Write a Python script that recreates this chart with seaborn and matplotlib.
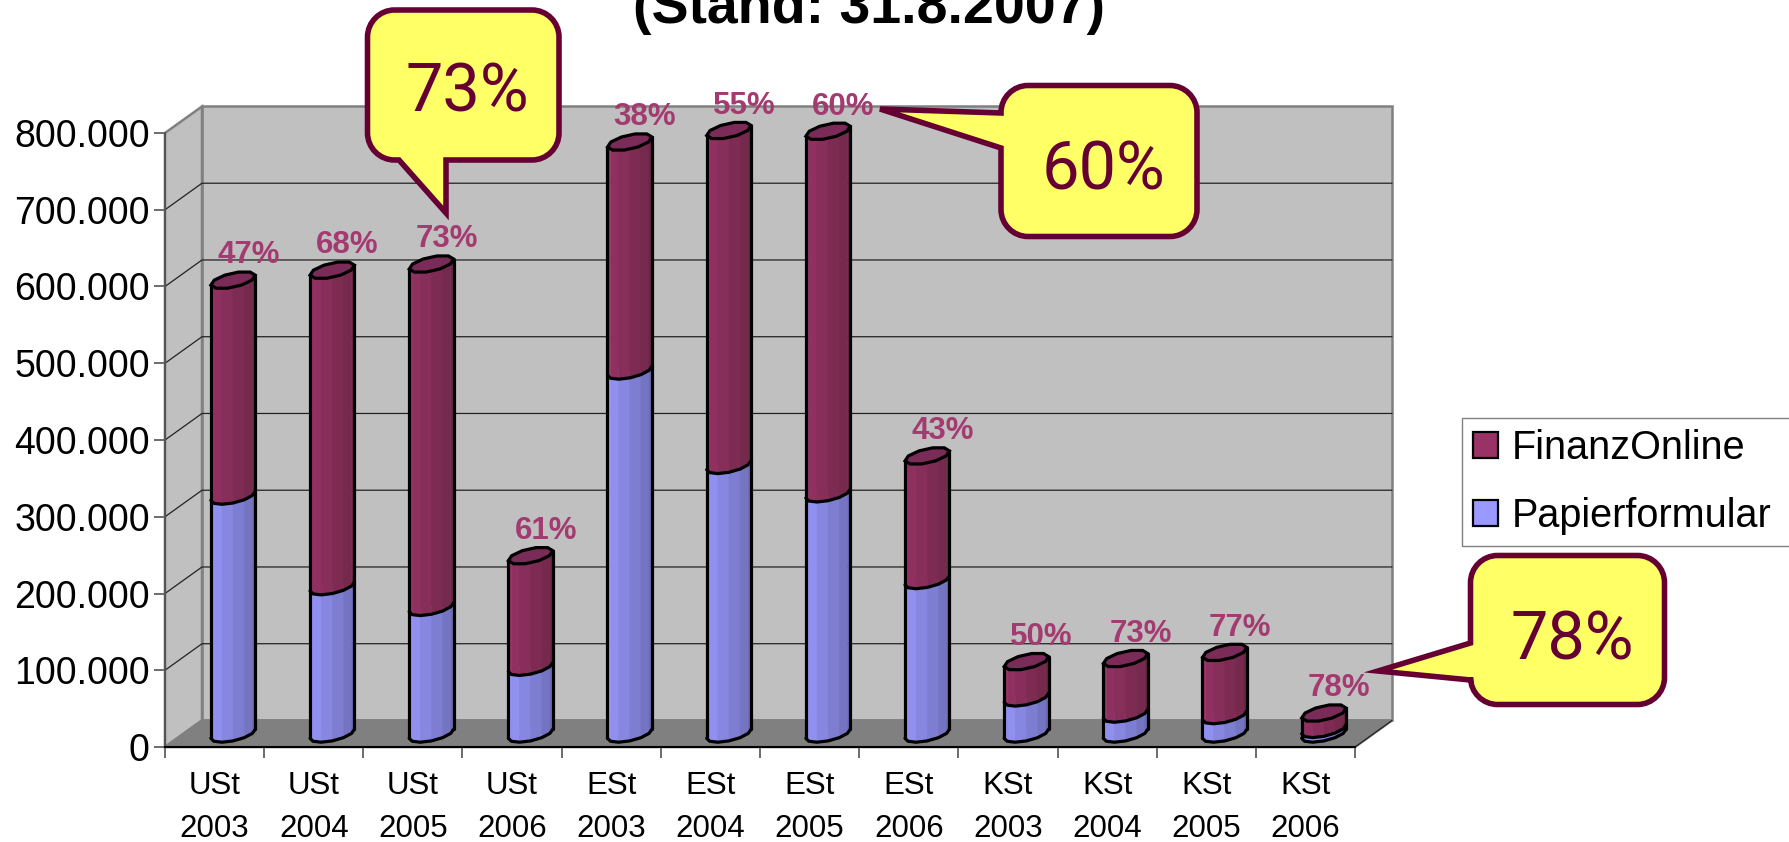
import numpy as np
import pandas as pd
import seaborn as sns
import matplotlib.pyplot as plt
from matplotlib.patches import Polygon, PathPatch, Patch
from matplotlib.path import Path
from matplotlib.transforms import Affine2D

labels = ['USt\n2003', 'USt\n2004', 'USt\n2005', 'USt\n2006',
          'ESt\n2003', 'ESt\n2004', 'ESt\n2005', 'ESt\n2006',
          'KSt\n2003', 'KSt\n2004', 'KSt\n2005', 'KSt\n2006']
papier = [310000, 192000, 165000, 87000, 473000, 350000, 313000, 200000, 47000, 26000, 24000, 6000]
online = [281000, 412000, 447000, 145000, 298000, 436000, 472000, 162000, 47000, 72000, 82000, 21000]
prozent = ['47%', '68%', '73%', '61%', '38%', '55%', '60%', '43%', '50%', '73%', '77%', '78%']
y_ticks = [0, 100000, 200000, 300000, 400000, 500000, 600000, 700000, 800000]
y_labels = ['0', '100.000', '200.000', '300.000', '400.000', '500.000', '600.000', '700.000', '800.000']

W, H = 1789, 842
DEPTH_X = 0.373
DEPTH_Y = 34570
RX, RD = 0.19, 0.32
COL_ONLINE = '#993366'
COL_PAPIER = '#9999ff'
DARK = '#660033'
YELLOW = '#ffff66'

sns.set_theme(style='white')
plt.rcParams['font.family'] = ['Liberation Sans', 'DejaVu Sans']
plt.rcParams['text.color'] = 'black'

df = pd.DataFrame({'label': labels, 'papier': papier, 'online': online})
df['gesamt'] = df['papier'] + df['online']

fig = plt.figure(figsize=(W / 100, H / 100), dpi=100, facecolor='white')
ax = fig.add_axes([165 / W, (H - 747) / H, 1190 / W, 614 / H])

# flat bars, the round bodies get drawn on top of them
sns.barplot(df, x='label', y='gesamt', color=COL_ONLINE, saturation=1, width=0.3, ax=ax, zorder=3)
sns.barplot(df, x='label', y='papier', color=COL_PAPIER, saturation=1, width=0.3, ax=ax, zorder=3)
ax.set_xlim(-0.5, 11.5)
ax.set_ylim(0, 800000)
ax.set_xlabel('')
ax.set_ylabel('')

mid = Affine2D().translate(DEPTH_X / 2, DEPTH_Y / 2) + ax.transData
for bar in ax.patches:
    bar.set_transform(mid)
    bar.set_clip_on(False)


def proj(x, y, d):
    return x + d * DEPTH_X, y + d * DEPTH_Y


# walls and floor
x0, x1 = -0.5, 11.5
floor = [proj(x0, 0, 0), proj(x1, 0, 0), proj(x1, 0, 1), proj(x0, 0, 1)]
back = [proj(x0, 0, 1), proj(x1, 0, 1), proj(x1, 800000, 1), proj(x0, 800000, 1)]
side = [proj(x0, 0, 0), proj(x0, 0, 1), proj(x0, 800000, 1), proj(x0, 800000, 0)]
for pts, col in [(back, '#c0c0c0'), (side, '#c0c0c0'), (floor, '#808080')]:
    ax.add_patch(Polygon(pts, closed=True, fc=col, ec='#808080', lw=1.8, clip_on=False, zorder=1))
for t in y_ticks[1:-1]:
    a, b, c = proj(x0, t, 0), proj(x0, t, 1), proj(x1, t, 1)
    ax.plot([a[0], b[0], c[0]], [a[1], b[1], c[1]], color='#222222', lw=0.9, clip_on=False, zorder=2)
a, b = proj(x1, 0, 0), proj(x1, 0, 1)
ax.plot([a[0], b[0]], [a[1], b[1]], color='#222222', lw=0.9, clip_on=False, zorder=2)


def blend(c1, c2, n):
    c1, c2 = np.array(plt.matplotlib.colors.to_rgb(c1)), np.array(plt.matplotlib.colors.to_rgb(c2))
    return [c1 + (c2 - c1) * i / (n - 1) for i in range(n)]


def ring(x, y, ang):
    # x, y of a circle lying in the depth plane, around the middle of the bar
    xs = x + RX * np.cos(ang) + (0.5 + RD * np.sin(ang)) * DEPTH_X
    ys = y + (0.5 + RD * np.sin(ang)) * DEPTH_Y
    return xs, ys


def body(x, v0, v1, c_light, c_dark, z):
    start = np.arctan2(RD * DEPTH_X, RX) + np.pi
    ang = np.linspace(start, start + np.pi, 7)
    xs, y0 = ring(x, v0, ang)
    _, y1 = ring(x, v1, ang)
    for i, col in enumerate(blend(c_light, c_dark, 6)):
        ax.add_patch(Polygon([(xs[i], y0[i]), (xs[i + 1], y0[i + 1]), (xs[i + 1], y1[i + 1]), (xs[i], y1[i])],
                             closed=True, fc=col, ec=col, lw=0.3, clip_on=False, zorder=z))
    ax.plot(xs, y0, color='black', lw=2.3, clip_on=False, zorder=z + 1, solid_capstyle='round')
    ax.plot([xs[0], xs[0]], [y0[0], y1[0]], color='black', lw=2.3, clip_on=False, zorder=z + 1)
    ax.plot([xs[-1], xs[-1]], [y0[-1], y1[-1]], color='black', lw=2.3, clip_on=False, zorder=z + 1)


for i, row in df.iterrows():
    body(i, 0, row['papier'], '#9999ff', '#6b6bb3', 4)
    body(i, row['papier'], row['gesamt'], '#993366', '#6b2647', 6)
    cap = np.linspace(0, 2 * np.pi, 11)
    cx, cy = ring(i, row['gesamt'], cap)
    ax.add_patch(Polygon(np.c_[cx, cy], closed=True, fc='#7a2b58', ec='black', lw=2.3, clip_on=False, zorder=8))
    px, py = proj(i, row['gesamt'], 0.5)
    ax.annotate(prozent[i], (px, py), xytext=(11, 7), textcoords='offset points', ha='center', va='bottom',
                fontsize=22.5, fontweight='bold', color='#a33a70', zorder=9, annotation_clip=False)

# axes
ax.set_yticks(y_ticks, y_labels)
ax.set_xticks(range(12), labels)
ax.set_xticks(np.arange(-0.5, 12), minor=True)
ax.tick_params(axis='y', left=True, length=8, width=1.1, color='#444444', labelsize=27, pad=3, labelcolor='black')
ax.tick_params(axis='x', which='major', bottom=False, labelsize=22.5, pad=11.5, labelcolor='black')
ax.tick_params(axis='x', which='minor', bottom=True, length=8, width=1.1, color='#444444')
for lab in ax.get_xticklabels():
    lab.set_linespacing(1.54)
for s in ['top', 'right']:
    ax.spines[s].set_visible(False)
ax.spines['left'].set_color('#555555')
ax.spines['left'].set_linewidth(1.5)
ax.spines['bottom'].set_color('black')
ax.spines['bottom'].set_linewidth(1.5)
ax.spines['left'].set_zorder(2)
ax.spines['bottom'].set_zorder(2)

handles = [Patch(fc=COL_ONLINE, ec='black', lw=1.6, label='FinanzOnline'),
           Patch(fc=COL_PAPIER, ec='black', lw=1.6, label='Papierformular')]
fig.legend(handles=handles, loc='upper left', bbox_to_anchor=(1462 / W, (H - 418) / H, (W - 1460) / W, 0),
           mode='expand', fontsize=28.5, labelcolor='black',
           frameon=True, fancybox=False, edgecolor='#808080', facecolor='white', framealpha=1,
           handlelength=0.63, handleheight=0.63, handletextpad=0.35, labelspacing=0.75,
           borderpad=0.28, borderaxespad=0)

fig.text(869 / W, (H - 23) / H, '(Stand: 31.8.2007)', ha='center', va='baseline', fontsize=40,
         fontweight='bold', color='black')

# speech bubbles, in figure pixels
over = fig.add_axes([0, 0, 1, 1], facecolor='none')
over.set_xlim(0, W)
over.set_ylim(H, 0)
over.axis('off')


def bubble(l, t, r, b, tip, side, s0, s1, text, tx, ty, rad=27):
    k = rad * 0.45
    v = [(l + rad, t)]
    c = [Path.MOVETO]
    if side == 'bottom':
        v += [(r - rad, t), (r - k, t), (r, t + k), (r, t + rad), (r, b - rad), (r, b - k), (r - k, b), (r - rad, b),
              (s1, b), tip, (s0, b), (l + rad, b), (l + k, b), (l, b - k), (l, b - rad), (l, t + rad), (l, t + k), (l + k, t), (l + rad, t)]
        c += [Path.LINETO, Path.CURVE4, Path.CURVE4, Path.CURVE4, Path.LINETO, Path.CURVE4, Path.CURVE4, Path.CURVE4,
              Path.LINETO, Path.LINETO, Path.LINETO, Path.LINETO, Path.CURVE4, Path.CURVE4, Path.CURVE4, Path.LINETO, Path.CURVE4, Path.CURVE4, Path.CURVE4]
    else:
        v += [(r - rad, t), (r - k, t), (r, t + k), (r, t + rad), (r, b - rad), (r, b - k), (r - k, b), (r - rad, b),
              (l + rad, b), (l + k, b), (l, b - k), (l, b - rad), (l, s1), tip, (l, s0), (l, t + rad), (l, t + k), (l + k, t), (l + rad, t)]
        c += [Path.LINETO, Path.CURVE4, Path.CURVE4, Path.CURVE4, Path.LINETO, Path.CURVE4, Path.CURVE4, Path.CURVE4,
              Path.LINETO, Path.CURVE4, Path.CURVE4, Path.CURVE4, Path.LINETO, Path.LINETO, Path.LINETO, Path.LINETO, Path.CURVE4, Path.CURVE4, Path.CURVE4]
    over.add_patch(PathPatch(Path(v, c), fc=YELLOW, ec=DARK, lw=4, joinstyle='miter', clip_on=False))
    over.text(tx, ty, text, ha='center', va='center', fontsize=48, color=DARK,
              family=['Roboto', 'Liberation Sans'])


bubble(367.5, 10, 559, 160, (446, 213), 'bottom', 399, 446, '73%', 467, 93)
bubble(1001, 85.5, 1197, 236.5, (880, 109), 'left', 113, 148, '60%', 1103, 172)
bubble(1470.5, 555.5, 1664.5, 704.5, (1378, 671), 'left', 643, 680, '78%', 1572, 642)

fig.savefig('out.png', dpi=100)
